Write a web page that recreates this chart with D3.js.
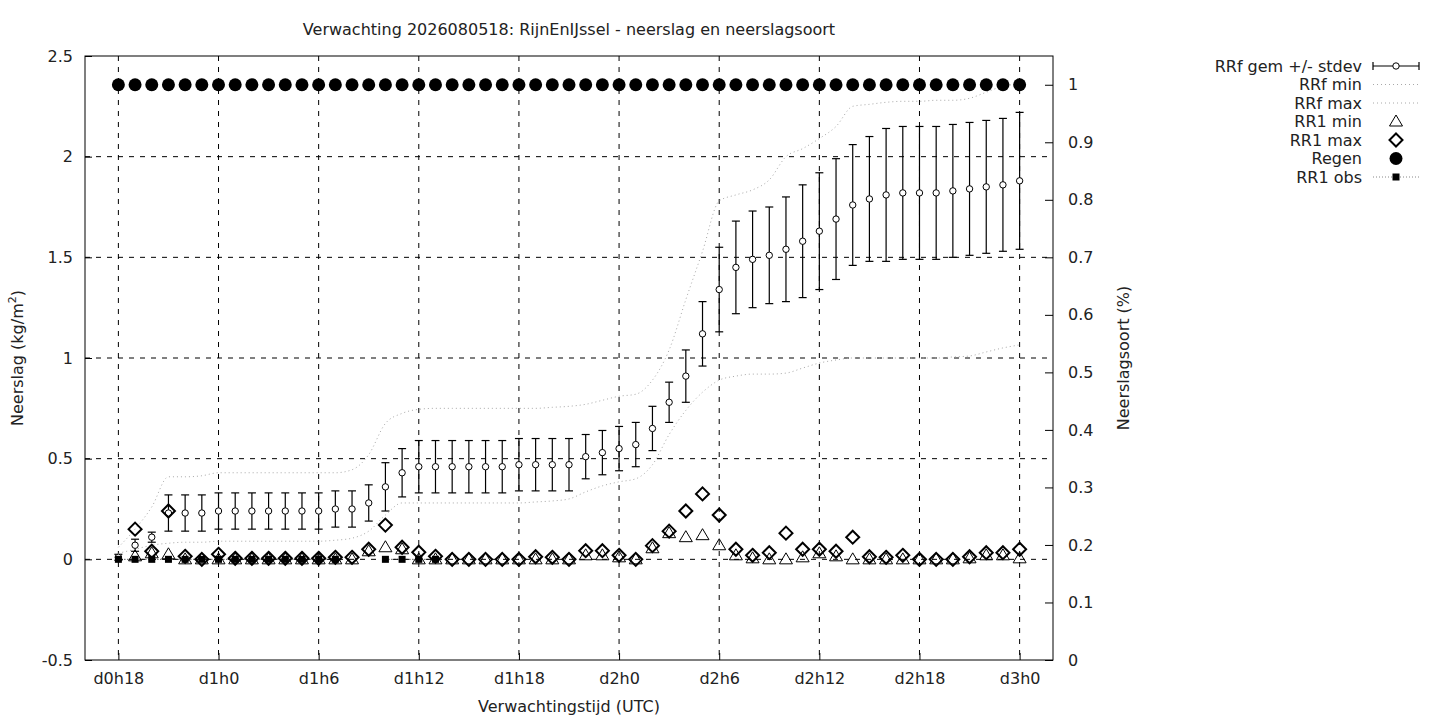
<!DOCTYPE html>
<html>
<head>
<meta charset="utf-8">
<script src="https://cdn.jsdelivr.net/npm/d3@7"></script>
<style>
  body { margin: 0; background: #fff; }
  svg text { font-family: "DejaVu Sans", sans-serif; font-size: 16px; fill: #222; }
</style>
</head>
<body>
<svg id="chart" width="1440" height="720"></svg>
<script>
// uren vanaf run (d0h18 .. d3h0)
const hours = [18, 19, 20, 21, 22, 23, 24, 25, 26, 27, 28, 29, 30, 31, 32, 33, 34, 35,
  36, 37, 38, 39, 40, 41, 42, 43, 44, 45, 46, 47, 48, 49, 50, 51, 52, 53,
  54, 55, 56, 57, 58, 59, 60, 61, 62, 63, 64, 65, 66, 67, 68, 69, 70, 71, 72]

const rrfMean = [0.01, 0.07, 0.11, 0.23, 0.23, 0.23, 0.24, 0.24, 0.24, 0.24, 0.24, 0.24, 0.24, 0.25, 0.25, 0.28, 0.36, 0.43,
  0.46, 0.46, 0.46, 0.46, 0.46, 0.46, 0.47, 0.47, 0.47, 0.47, 0.51, 0.53, 0.55, 0.57, 0.65, 0.78, 0.91, 1.12,
  1.34, 1.45, 1.49, 1.51, 1.54, 1.58, 1.63, 1.69, 1.76, 1.79, 1.81, 1.82, 1.82, 1.82, 1.83, 1.84, 1.85, 1.86, 1.88]

const rrfStd = [0.015, 0.03, 0.025, 0.09, 0.09, 0.09, 0.09, 0.09, 0.09, 0.09, 0.09, 0.09, 0.09, 0.09, 0.09, 0.09, 0.12, 0.12,
  0.13, 0.13, 0.13, 0.13, 0.13, 0.13, 0.13, 0.13, 0.13, 0.13, 0.11, 0.11, 0.11, 0.11, 0.11, 0.10, 0.13, 0.16,
  0.21, 0.23, 0.24, 0.24, 0.26, 0.28, 0.29, 0.30, 0.30, 0.31, 0.33, 0.33, 0.33, 0.33, 0.33, 0.33, 0.33, 0.33, 0.34]

const rrfMin = [0.03, 0.05, 0.07, 0.08, 0.085, 0.085, 0.09, 0.09, 0.09, 0.09, 0.09, 0.09, 0.09, 0.095, 0.105, 0.14, 0.22, 0.28,
  0.28, 0.28, 0.28, 0.28, 0.28, 0.28, 0.28, 0.285, 0.29, 0.30, 0.335, 0.365, 0.385, 0.40, 0.47, 0.62, 0.74, 0.83,
  0.89, 0.91, 0.92, 0.92, 0.925, 0.95, 0.975, 0.99, 1.0, 1.0, 1.0, 1.0, 1.0, 1.0, 1.005, 1.01, 1.03, 1.05, 1.065]

const rrfMax = [0.06, 0.15, 0.26, 0.41, 0.41, 0.415, 0.43, 0.43, 0.43, 0.43, 0.43, 0.43, 0.43, 0.43, 0.445, 0.52, 0.675, 0.725,
  0.745, 0.75, 0.75, 0.75, 0.75, 0.75, 0.75, 0.75, 0.755, 0.76, 0.77, 0.79, 0.81, 0.82, 0.89, 1.04, 1.29, 1.53,
  1.78, 1.81, 1.835, 1.885, 2.0, 2.04, 2.09, 2.15, 2.25, 2.26, 2.27, 2.275, 2.275, 2.28, 2.28, 2.29, 2.32, 2.35, 2.36]

const rr1Min = [null, 0.015, 0.03, 0.025, 0, 0, 0, 0, 0, 0, 0, 0, 0, 0, 0, 0.04, 0.06, 0.05,
  0, 0, 0, 0, 0, 0, 0, 0, 0, 0, 0.02, 0.02, 0.01, 0, 0.055, 0.13, 0.11, 0.12,
  0.07, 0.02, 0.005, 0, 0, 0.01, 0.03, 0.015, 0, 0, 0, 0, 0, 0, 0, 0.005, 0.02, 0.02, 0.005]

const rr1Max = [null, 0.15, 0.04, 0.24, 0.015, 0, 0.025, 0.005, 0.005, 0.005, 0.005, 0.005, 0.005, 0.01, 0.01, 0.05, 0.17, 0.06,
  0.035, 0.015, 0, 0, 0, 0, 0, 0.013, 0.01, 0, 0.043, 0.043, 0.02, 0, 0.068, 0.14, 0.24, 0.325,
  0.22, 0.05, 0.02, 0.033, 0.13, 0.05, 0.05, 0.04, 0.11, 0.013, 0.01, 0.02, 0, 0, 0, 0.013, 0.033, 0.033, 0.05]

const rr1Obs = [0, 0, 0, 0, 0, 0, 0, 0, 0, 0, 0, 0, 0, 0, null, null, 0, 0,
  0, 0, null, null, null, null, null, null, null, null, null, null, null, null, null, null, null, null,
  null, null, null, null, null, null, null, null, null, null, null, null, null, null, null, null, null, null, null]

// neerslagsoort regen (fractie)
const regen = [1, 1, 1, 1, 1, 1, 1, 1, 1, 1, 1, 1, 1, 1, 1, 1, 1, 1,
  1, 1, 1, 1, 1, 1, 1, 1, 1, 1, 1, 1, 1, 1, 1, 1, 1, 1,
  1, 1, 1, 1, 1, 1, 1, 1, 1, 1, 1, 1, 1, 1, 1, 1, 1, 1, 1]

const xTicks = [18, 24, 30, 36, 42, 48, 54, 60, 66, 72]
const yTicks = [-0.5, 0, 0.5, 1, 1.5, 2, 2.5]
const y2Ticks = [0, 0.1, 0.2, 0.3, 0.4, 0.5, 0.6, 0.7, 0.8, 0.9, 1]

const legendNames = ['RRf gem +/- stdev', 'RRf min', 'RRf max', 'RR1 min', 'RR1 max', 'Regen', 'RR1 obs']

const L = 85, R = 1053, T = 56, B = 660
const FS = 16
const svg = d3.select('#chart')

const x = d3.scaleLinear().domain([16, 74]).range([L, R])
const y = d3.scaleLinear().domain([-0.5, 2.5]).range([B, T])
const y2 = d3.scaleLinear().domain([0, 1.05]).range([B, T])

const fmtHour = h => 'd' + Math.floor(h / 24) + 'h' + (h % 24)
const fmtNum = v => String(+v.toFixed(2))

// grid
const grid = svg.append('g').attr('stroke', '#000').attr('stroke-width', 1).attr('stroke-dasharray', '5,6')
grid.selectAll('line.gx').data(xTicks).enter().append('line')
  .attr('x1', d => x(d)).attr('x2', d => x(d)).attr('y1', T).attr('y2', B)
grid.selectAll('line.gy').data(yTicks.filter(d => d > -0.5 && d < 2.5)).enter().append('line')
  .attr('x1', L).attr('x2', R).attr('y1', d => y(d)).attr('y2', d => y(d))

// assen
const ax = svg.append('g').attr('transform', `translate(0,${B})`)
  .call(d3.axisBottom(x).tickValues(xTicks).tickFormat(fmtHour).tickSizeInner(-7).tickSizeOuter(0).tickPadding(13))
const ay = svg.append('g').attr('transform', `translate(${L},0)`)
  .call(d3.axisLeft(y).tickValues(yTicks).tickFormat(fmtNum).tickSizeInner(-7).tickSizeOuter(0).tickPadding(12))
const ay2 = svg.append('g').attr('transform', `translate(${R},0)`)
  .call(d3.axisRight(y2).tickValues(y2Ticks).tickFormat(fmtNum).tickSizeInner(-8).tickSizeOuter(0).tickPadding(15))
;[ax, ay, ay2].forEach(g => {
  g.select('.domain').remove()
  g.selectAll('text').attr('font-size', FS).attr('font-family', '"DejaVu Sans", sans-serif').attr('fill', '#222')
  g.selectAll('line').attr('stroke', '#000')
})
ax.selectAll('text').attr('dy', '0.71em')

svg.append('rect').attr('x', L).attr('y', T).attr('width', R - L).attr('height', B - T)
  .attr('fill', 'none').attr('stroke', '#000').attr('stroke-width', 1)

const rows = hours.map((h, i) => ({
  h, mean: rrfMean[i], sd: rrfStd[i], min: rrfMin[i], max: rrfMax[i],
  rmin: rr1Min[i], rmax: rr1Max[i], obs: rr1Obs[i], regen: regen[i]
}))

// RRf gem +/- stdev
const eb = svg.append('g').attr('stroke', '#000').attr('stroke-width', 1.2)
eb.selectAll('line.bar').data(rows).enter().append('line')
  .attr('x1', d => x(d.h)).attr('x2', d => x(d.h))
  .attr('y1', d => y(d.mean - d.sd)).attr('y2', d => y(d.mean + d.sd))
eb.selectAll('line.top').data(rows).enter().append('line')
  .attr('x1', d => x(d.h) - 4).attr('x2', d => x(d.h) + 4)
  .attr('y1', d => y(d.mean + d.sd)).attr('y2', d => y(d.mean + d.sd))
eb.selectAll('line.bot').data(rows).enter().append('line')
  .attr('x1', d => x(d.h) - 4).attr('x2', d => x(d.h) + 4)
  .attr('y1', d => y(d.mean - d.sd)).attr('y2', d => y(d.mean - d.sd))
eb.selectAll('circle').data(rows).enter().append('circle')
  .attr('cx', d => x(d.h)).attr('cy', d => y(d.mean)).attr('r', 3.2)
  .attr('fill', '#fff').attr('stroke-width', 1)

// RRf min / max
const curve = d3.line().x(d => x(d.h)).curve(d3.curveMonotoneX)
svg.append('path').datum(rows).attr('d', curve.y(d => y(d.min)))
  .attr('fill', 'none').attr('stroke', '#a8a8a8').attr('stroke-width', 1).attr('stroke-dasharray', '1,3')
svg.append('path').datum(rows).attr('d', curve.y(d => y(d.max)))
  .attr('fill', 'none').attr('stroke', '#a8a8a8').attr('stroke-width', 1).attr('stroke-dasharray', '1,3')

const triPath = 'M0,-6.5L6.5,4.5L-6.5,4.5Z'
const diaPath = 'M0,-6.5L6.5,0L0,6.5L-6.5,0Z'

// RR1 min
svg.append('g').selectAll('path').data(rows.filter(d => d.rmin != null)).enter().append('path')
  .attr('d', triPath).attr('transform', d => `translate(${x(d.h)},${y(d.rmin)})`)
  .attr('fill', 'none').attr('stroke', '#000').attr('stroke-width', 1)

// RR1 max
svg.append('g').selectAll('path').data(rows.filter(d => d.rmax != null)).enter().append('path')
  .attr('d', diaPath).attr('transform', d => `translate(${x(d.h)},${y(d.rmax)})`)
  .attr('fill', 'none').attr('stroke', '#000').attr('stroke-width', 2)

// Regen op rechteras
svg.append('g').selectAll('circle').data(rows).enter().append('circle')
  .attr('cx', d => x(d.h)).attr('cy', d => y2(d.regen)).attr('r', 6.5).attr('fill', '#000')

// RR1 obs
svg.append('path').datum(rows)
  .attr('d', d3.line().defined(d => d.obs != null).x(d => x(d.h)).y(d => y(d.obs)))
  .attr('fill', 'none').attr('stroke', '#000').attr('stroke-width', 1).attr('stroke-dasharray', '1,2')
svg.append('g').selectAll('rect').data(rows.filter(d => d.obs != null)).enter().append('rect')
  .attr('x', d => x(d.h) - 3.5).attr('y', d => y(d.obs) - 3.5).attr('width', 7).attr('height', 7).attr('fill', '#000')

// titels
svg.append('text').attr('x', 569).attr('y', 35).attr('text-anchor', 'middle')
  .text('Verwachting 2026080518: RijnEnIJssel - neerslag en neerslagsoort')
svg.append('text').attr('x', 569).attr('y', 712).attr('text-anchor', 'middle').text('Verwachtingstijd (UTC)')
const yl = svg.append('text').attr('transform', 'translate(23,358) rotate(-90)').attr('text-anchor', 'middle')
yl.append('tspan').text('Neerslag (kg/m')
yl.append('tspan').attr('dy', -7).attr('font-size', 11).text('2')
yl.append('tspan').attr('dy', 7).text(')')
svg.append('text').attr('transform', 'translate(1129,358) rotate(-90)').attr('text-anchor', 'middle').text('Neerslagsoort (%)')

// legenda
const lg = svg.append('g')
const ly = i => 66 + i * 18.5
const lx1 = 1373, lx2 = 1419, lxc = 1396
lg.selectAll('text').data(legendNames).enter().append('text')
  .attr('x', 1362).attr('y', (d, i) => ly(i)).attr('dy', '0.35em').attr('text-anchor', 'end').text(d => d)
lg.append('line').attr('x1', lx1).attr('x2', lx2).attr('y1', ly(0)).attr('y2', ly(0)).attr('stroke', '#000').attr('stroke-width', 1.2)
;[lx1, lx2].forEach(v => lg.append('line').attr('x1', v).attr('x2', v).attr('y1', ly(0) - 4).attr('y2', ly(0) + 4).attr('stroke', '#000').attr('stroke-width', 1.2))
lg.append('circle').attr('cx', lxc).attr('cy', ly(0)).attr('r', 3.2).attr('fill', '#fff').attr('stroke', '#000')
;[1, 2].forEach(i => lg.append('line').attr('x1', lx1).attr('x2', lx2).attr('y1', ly(i)).attr('y2', ly(i))
  .attr('stroke', '#a8a8a8').attr('stroke-dasharray', '1,3'))
lg.append('path').attr('d', triPath).attr('transform', `translate(${lxc},${ly(3)})`).attr('fill', 'none').attr('stroke', '#000')
lg.append('path').attr('d', diaPath).attr('transform', `translate(${lxc},${ly(4)})`).attr('fill', 'none').attr('stroke', '#000').attr('stroke-width', 2)
lg.append('circle').attr('cx', lxc).attr('cy', ly(5)).attr('r', 6.5).attr('fill', '#000')
lg.append('line').attr('x1', lx1).attr('x2', lx2).attr('y1', ly(6)).attr('y2', ly(6)).attr('stroke', '#888').attr('stroke-dasharray', '1,2')
lg.append('rect').attr('x', lxc - 3.5).attr('y', ly(6) - 3.5).attr('width', 7).attr('height', 7).attr('fill', '#000')
</script>
</body>
</html>
